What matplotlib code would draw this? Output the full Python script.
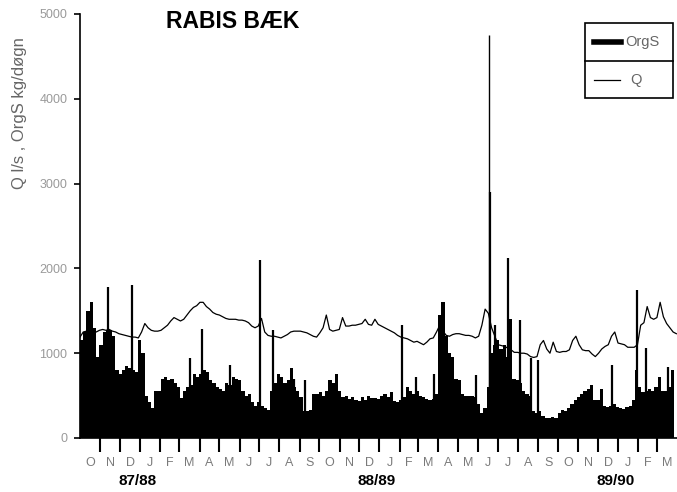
import numpy as np
import pandas as pd
import matplotlib
matplotlib.use("Agg")
import matplotlib.pyplot as plt
from matplotlib.patches import Rectangle
from matplotlib.lines import Line2D

plt.rcParams["font.family"] = ["Liberation Sans", "DejaVu Sans"]

# 5-day values, Oct 1987 - Mar 1990
orgs_base = [
    1150, 1250, 1500, 1600, 1300, 950, 1100, 1250, 1270, 1270,
    1200, 800, 750, 800, 850, 820, 800, 780, 1150, 1000,
    500, 420, 350, 550, 560, 700, 720, 680, 700, 650,
    600, 470, 560, 600, 620, 750, 720, 760, 800, 780,
    680, 650, 600, 580, 550, 650, 620, 720, 700, 680,
    550, 500, 520, 420, 380, 420, 380, 350, 330, 560,
    650, 750, 720, 650, 680, 820, 600, 560, 480, 320,
    320, 330, 520, 520, 540, 500, 560, 680, 650, 760,
    560, 480, 500, 460, 480, 450, 440, 480, 450, 500,
    470, 470, 460, 500, 520, 480, 540, 440, 430, 450,
    480, 600, 560, 520, 560, 500, 480, 460, 450, 460,
    520, 1450, 1600, 1200, 1000, 950, 700, 680, 520, 500,
    490, 490, 480, 400, 300, 350, 600, 1000, 1100, 1150,
    1050, 1100, 950, 1400, 700, 680, 650, 550, 520, 500,
    320, 300, 320, 260, 240, 230, 250, 240, 300, 330,
    320, 350, 400, 450, 480, 520, 550, 580, 620, 450,
    450, 580, 380, 360, 380, 400, 360, 350, 340, 360,
    380, 450, 800, 600, 540, 560, 580, 560, 600, 720,
    560, 560, 600, 800, 800,
]

q_flow = [
    1190, 1250, 1260, 1270, 1260, 1250, 1270, 1280, 1270, 1280,
    1260, 1250, 1230, 1220, 1210, 1200, 1190, 1190, 1180, 1250,
    1350, 1300, 1270, 1260, 1260, 1270, 1300, 1330, 1380, 1420,
    1400, 1380, 1400, 1450, 1500, 1540, 1560, 1600, 1600, 1550,
    1520, 1480, 1460, 1450, 1430, 1410, 1400, 1400, 1400, 1390,
    1390, 1380, 1360, 1320, 1300, 1320, 1410, 1250, 1210, 1200,
    1200, 1190, 1180, 1200, 1220, 1250, 1260, 1260, 1260, 1250,
    1240, 1220, 1200, 1190, 1240, 1300, 1450, 1280, 1260, 1270,
    1280, 1420, 1320, 1320, 1330, 1330, 1340, 1350, 1400, 1340,
    1330, 1400, 1340, 1320, 1300, 1280, 1260, 1240, 1210, 1190,
    1180, 1170, 1150, 1130, 1140, 1120, 1100, 1130, 1170, 1180,
    1250, 1330, 1260, 1210, 1200, 1220, 1230, 1230, 1220, 1210,
    1210, 1200, 1180, 1200, 1330, 1520, 1470, 1300, 1200, 1100,
    1090, 1080, 1060, 1040, 1010, 1010, 1000, 1000, 990, 960,
    950, 960, 1100, 1150, 1050, 1000, 1130, 1020, 1010, 1020,
    1020, 1040, 1150, 1200, 1100, 1040, 1030, 1030, 990, 960,
    1000, 1050, 1080, 1100, 1200, 1250, 1120, 1110, 1100, 1070,
    1070, 1070, 1100, 1330, 1360, 1550, 1420, 1400, 1420, 1600,
    1430, 1350, 1300, 1250, 1230,
]

# single-day OrgS peaks
spike_dates = [
    "1987-11-13", "1987-12-19", "1988-03-17", "1988-04-04", "1988-05-17",
    "1988-07-02", "1988-07-22", "1988-08-23", "1988-09-09", "1989-02-05",
    "1989-02-26", "1989-03-26", "1989-04-21", "1989-05-29", "1989-06-18",
    "1989-06-19", "1989-06-27", "1989-07-17", "1989-08-04", "1989-08-20",
    "1989-09-01", "1989-12-22", "1990-01-30", "1990-02-13", "1990-03-19",
]
spike_values = [
    1780, 1800, 940, 1290, 860,
    2100, 1270, 700, 680, 1330,
    720, 760, 960, 740, 4750,
    2900, 1330, 2120, 1390, 940,
    920, 860, 1740, 1060, 840,
]

month_letters = ["O", "N", "D", "J", "F", "M", "A", "M", "J", "J", "A", "S"] * 2 + \
    ["O", "N", "D", "J", "F", "M"]
seasons = ["87/88", "88/89", "89/90"]
season_dates = ["1987-12-28", "1988-12-28", "1989-12-28"]

start = pd.Timestamp("1987-10-01")
end = pd.Timestamp("1990-04-01")

fig = plt.figure(figsize=(6.77, 4.92), dpi=100)
ax = fig.add_axes([80 / 677, 1 - 438 / 492, 597 / 677, 424 / 492])

d_orgs = pd.date_range(start, "1990-03-27", periods=len(orgs_base))
d_q = pd.date_range(start, "1990-03-31", periods=len(q_flow))

ax.fill_between(d_orgs, orgs_base, step="post", color="black", lw=0)
sd = pd.to_datetime(spike_dates)
widths = [1.0 if v > 4000 else 1.6 for v in spike_values]
ax.vlines(sd, 0, spike_values, color="black", lw=widths)
ax.plot(d_q, q_flow, color="black", lw=0.9)

ax.set_xlim(start, end)
ax.set_ylim(0, 5000)

for s in ["top", "right"]:
    ax.spines[s].set_visible(False)
ax.spines["left"].set_linewidth(1.2)
ax.spines["bottom"].set_linewidth(1.2)

ax.set_yticks(np.arange(0, 5001, 1000))
ax.set_yticklabels([str(v) for v in range(0, 5001, 1000)], fontsize=9, color="#9a9a9a")
ax.tick_params(axis="y", direction="out", length=4, width=1.2, pad=5)

month_starts = pd.date_range(start, end, freq="MS")
ax.set_xticks(month_starts[1:-1])
ax.set_xticklabels([])
ax.tick_params(axis="x", which="major", direction="out", length=10, width=1.5)
mids = month_starts[:-1] + (month_starts[1:] - month_starts[:-1]) / 2
ax.set_xticks(mids, minor=True)
ax.set_xticklabels(month_letters, minor=True, fontsize=9, color="#7a7a7a")
ax.tick_params(axis="x", which="minor", length=0, pad=14)

for lab, d in zip(seasons, season_dates):
    ax.text(pd.Timestamp(d), -0.101, lab, transform=ax.get_xaxis_transform(),
            ha="center", va="center", fontsize=11, fontweight="bold")

fig.text(233 / 677, 1 - 21 / 492, "RABIS BÆK", ha="center", va="center",
         fontsize=16.5, fontweight="bold")
fig.text(20 / 677, 1 - 113 / 492, "Q l/s , OrgS kg/døgn", rotation=90,
         ha="center", va="center", fontsize=12, color="#666666")

# legend box
def fx(x):
    return x / 677

def fy(y):
    return 1 - y / 492

fig.add_artist(Rectangle((fx(585), fy(98)), 88 / 677, 75 / 492, transform=fig.transFigure,
                         fill=False, lw=1.2, color="black"))
fig.add_artist(Line2D([fx(585), fx(673)], [fy(61), fy(61)], transform=fig.transFigure,
                      lw=1.2, color="black"))
fig.add_artist(Line2D([fx(594), fx(621)], [fy(42), fy(42)], transform=fig.transFigure,
                      lw=4, color="black"))
fig.text(fx(625), fy(42), "OrgS", ha="left", va="center", fontsize=10.5, color="#666666")
fig.add_artist(Line2D([fx(594), fx(620)], [fy(80), fy(80)], transform=fig.transFigure,
                      lw=0.9, color="black"))
fig.text(fx(630), fy(80), "Q", ha="left", va="center", fontsize=10.5, color="#666666")

fig.savefig("out.png", dpi=100)
